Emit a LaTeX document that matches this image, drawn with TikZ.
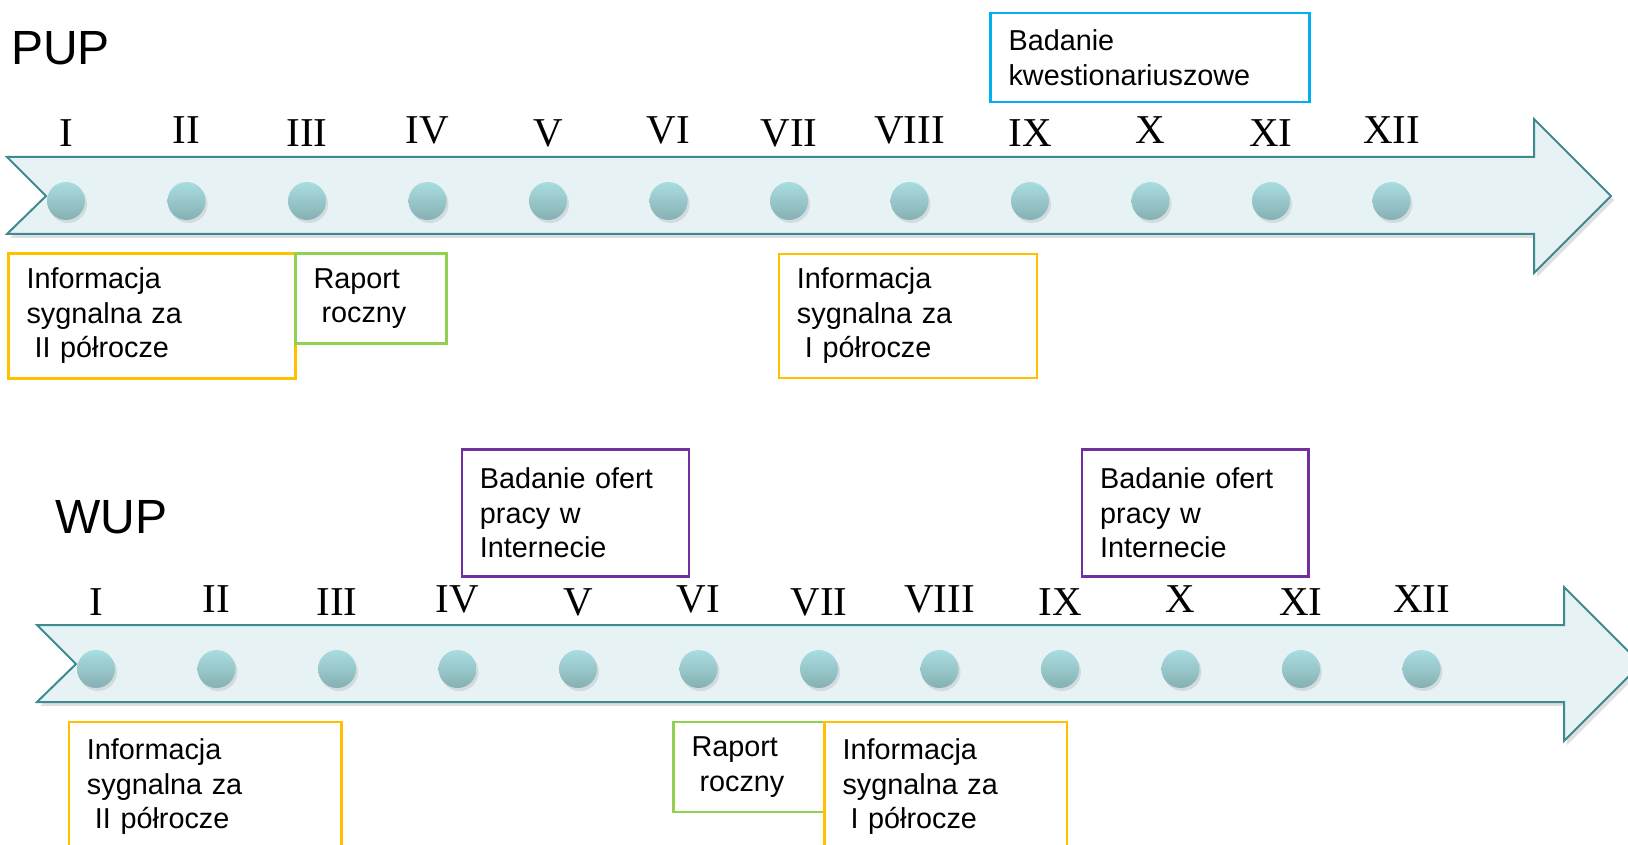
\documentclass[tikz,border=0pt]{standalone}
\usepackage{fontspec}
\setmainfont{Liberation Sans}
\newfontfamily\numfont{Liberation Serif}
\usetikzlibrary{shadows}
\definecolor{tealline}{HTML}{3D8A90}
\definecolor{arrowfill}{HTML}{E7F2F5}
\definecolor{dottop}{HTML}{A9DDE0}
\definecolor{dotbottom}{HTML}{86B0B3}
\definecolor{boxyellow}{HTML}{FFC000}
\definecolor{boxgreen}{HTML}{92D050}
\definecolor{boxblue}{HTML}{00B0F0}
\definecolor{boxpurple}{HTML}{7030A0}

\begin{document}
\begin{tikzpicture}[x=1pt, y=-1pt,
		arrow_style/.style={draw=tealline, line width=2pt, fill=arrowfill, line join=miter, drop shadow={shadow xshift=3pt, shadow yshift=-4pt, opacity=0.25}},
		dot_style/.style={circle, minimum size=38pt, inner sep=0pt, top color=dottop, bottom color=dotbottom, drop shadow={shadow xshift=2pt, shadow yshift=-3pt, opacity=0.2}},
		num_style/.style={font=\numfont\fontsize{41}{41}\selectfont, anchor=base, inner sep=0pt},
		title_style/.style={font=\fontsize{48}{48}\selectfont, anchor=base west, inner sep=0pt},
		box_style/.style={draw=#1, line width=2.5pt, anchor=north west, inner xsep=18pt, inner ysep=0pt, align=left, font=\fontsize{28.8}{34.5}\selectfont}]
	\useasboundingbox (0,0) rectangle (1628,845);
	\clip (0,0) rectangle (1628,845);
	% both time lines
	\foreach \tl/\dx/\dy in {pup/0/0, wup/30/468}{
		\begin{scope}[shift={(\dx,\dy)}]
			\draw[arrow_style] (7,157) -- (1534,157) -- (1534,119) -- (1611,196) -- (1534,273) -- (1534,234) -- (7,234) -- (46,196) -- cycle;
			\foreach \r [count=\i] in {I,II,III,IV,V,VI,VII,VIII,IX,X,XI,XII}{
				\node[dot_style] (\tl dot\i) at ({66+120.5*(\i-1)},201) {};
				\node[num_style] (\tl num\i) at ({66+120.5*(\i-1)},{144+3*mod(\i,2)}) {\r};
			}
		\end{scope}
	}
	\node[title_style] (puplabel) at (11,65) {PUP};
	\node[title_style] (wuplabel) at (55,533) {WUP};
	
	% PUP
	\node[box_style=boxyellow, text width=251pt, minimum height=125pt] (pupinfoa) at (7.3,252.3) {Informacja\\ sygnalna za\\ \hspace*{8pt}II półrocze};
	\node[box_style=boxgreen, text width=115pt, minimum height=90pt] (pupraport) at (294.3,252.3) {Raport\\ \hspace*{8pt}roczny};
	\node[box_style=boxyellow, text width=222pt, minimum height=124pt] (pupinfob) at (777.7,252.7) {Informacja\\ sygnalna za\\ \hspace*{8pt}I półrocze};
	\node[box_style=boxblue, text width=283pt, minimum height=89.3pt] (pupbadanie) at (989.3,11.7) {Badanie\\ kwestionariuszowe};
	
	% WUP
	\node[box_style=boxpurple, text width=191pt, minimum height=126.7pt] (wupofertya) at (460.7,448.3) {Badanie ofert\\ pracy w\\ Internecie};
	\node[box_style=boxpurple, text width=190.3pt, minimum height=126.7pt] (wupofertyb) at (1080.9,448.3) {Badanie ofert\\ pracy w\\ Internecie};
	\node[box_style=boxyellow, text width=236.3pt, minimum height=130pt] (wupinfoa) at (67.7,720.7) {Informacja\\ sygnalna za\\ \hspace*{8pt}II półrocze};
	\node[box_style=boxgreen, text width=115pt, minimum height=90pt] (wupraport) at (672.3,720.7) {Raport\\ \hspace*{8pt}roczny};
	\node[box_style=boxyellow, text width=206.4pt, minimum height=130pt] (wupinfob) at (823.3,720.7) {Informacja\\ sygnalna za\\ \hspace*{8pt}I półrocze};
\end{tikzpicture}
\end{document}
